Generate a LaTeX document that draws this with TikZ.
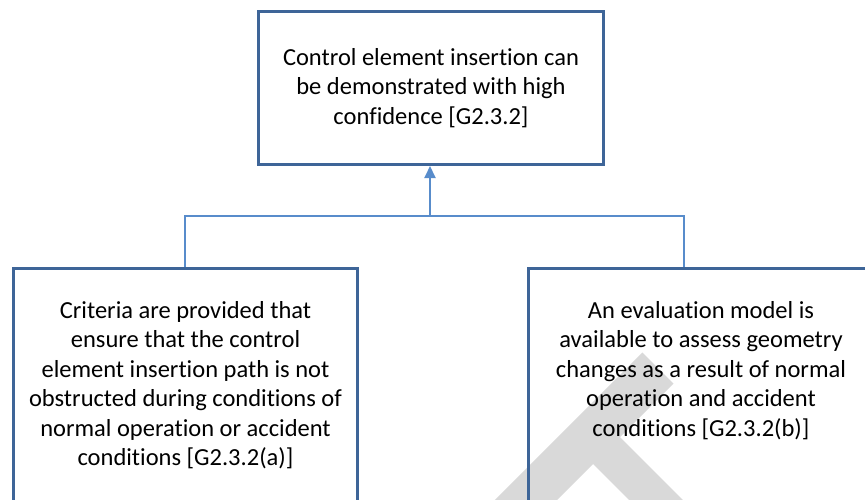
\documentclass[tikz,border=0pt]{standalone}
\usepackage{fontspec}
\setmainfont{Carlito}[Ligatures=NoCommon]
\usetikzlibrary{arrows.meta}
\definecolor{boxline}{RGB}{62,101,152}
\definecolor{linkline}{RGB}{88,140,203}
\definecolor{markgray}{RGB}{217,217,217}

\begin{document}
\begin{tikzpicture}[x=1pt,y=-1pt,
  goal/.style={draw=boxline, line width=3pt, anchor=north west, inner sep=0pt},
  claim/.style={anchor=north, align=center, inner sep=0pt,
    font=\fontsize{24.5}{29.5}\selectfont},
  link/.style={draw=linkline, line width=2pt}]
\useasboundingbox (0,0) rectangle (865,499);
\clip (0,0) rectangle (865,499);
% watermark
\draw[draw=markgray, line width=44pt] (500,526) -- (658,368);
\draw[draw=markgray, line width=38pt] (591,435) -- (700,544);
% boxes
\node[goal, minimum width=345pt, minimum height=153pt] (top) at (257,10) {};
\node[goal, minimum width=344pt, minimum height=260pt] (crit) at (12,267) {};
\node[goal, minimum width=345pt, minimum height=260pt] (eval) at (527,267) {};
\node[claim] (toptext) at ([yshift=-38pt]top.north)
  {Control element insertion can\\ be demonstrated with high\\ confidence [G2.3.2]};
\node[claim] (crittext) at ([yshift=-34pt]crit.north)
  {Criteria are provided that\\ ensure that the control\\ element insertion path is not\\
   obstructed during conditions of\\ normal operation or accident\\ conditions [G2.3.2(a)]};
\node[claim] (evaltext) at ([yshift=-34pt]eval.north)
  {An evaluation model is\\ available to assess geometry\\ changes as a result of normal\\
   operation and accident\\ conditions [G2.3.2(b)]};
% connectors
\coordinate (join) at (430,216);
\draw[link, -{Triangle[length=12pt,width=11pt]}] (join) -- (join |- top.south);
\draw[link] ([xshift=-1pt]crit.north) |- (join) -| ([xshift=-17.5pt]eval.north);
\end{tikzpicture}
\end{document}
